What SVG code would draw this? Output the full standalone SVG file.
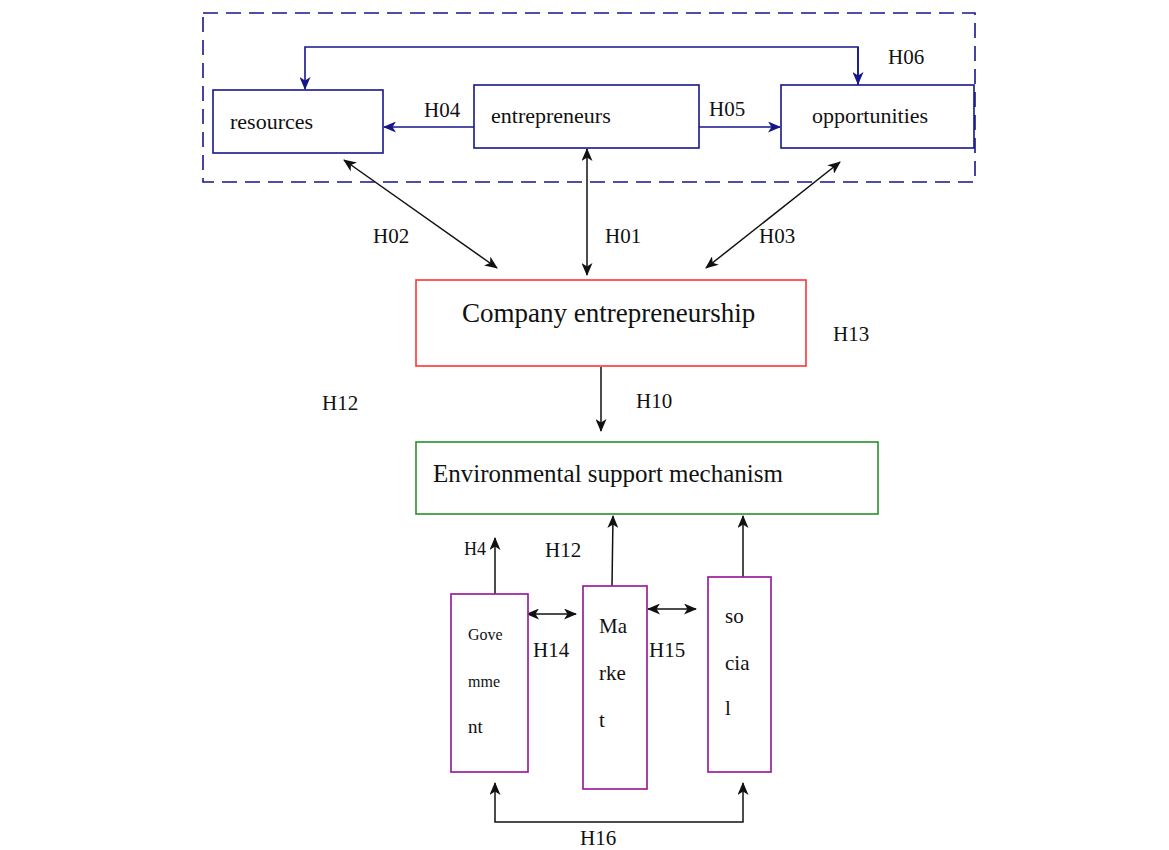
<svg xmlns="http://www.w3.org/2000/svg" width="1169" height="850" viewBox="0 0 1169 850">
<style>
.t{font-family:"Liberation Serif","Times New Roman",serif;fill:#111;}
.blue{fill:#fff;stroke:#16168c;stroke-width:1.6;}
.bl{fill:none;stroke:#16168c;stroke-width:1.6;}
.k{fill:none;stroke:#111;stroke-width:1.5;}
.pur{fill:#fff;stroke:#9a1fa0;stroke-width:1.7;}
</style>
<defs>
<marker id="ab" viewBox="0 0 13 11" refX="12" refY="5.5" markerWidth="13" markerHeight="11" markerUnits="userSpaceOnUse" orient="auto-start-reverse"><path d="M0,0 L13,5.5 L0,11 L3.5,5.5 z" fill="#16168c"/></marker>
<marker id="ak" viewBox="0 0 13 11" refX="12" refY="5.5" markerWidth="13" markerHeight="11" markerUnits="userSpaceOnUse" orient="auto-start-reverse"><path d="M0,0 L13,5.5 L0,11 L3.5,5.5 z" fill="#111"/></marker>
</defs>
<rect width="1169" height="850" fill="#fff"/>
<g id="group-box"><rect x="203" y="13" width="772" height="169" fill="none" stroke="#16168c" stroke-width="1.6" stroke-dasharray="15,8"/></g>
<g id="connectors">
<path class="bl" d="M858,85 V47 H305 V89" marker-end="url(#ab)"/>
<path class="bl" d="M858,47 V84" marker-end="url(#ab)"/>
<line class="bl" x1="474" y1="127" x2="384" y2="127" marker-end="url(#ab)"/>
<line class="bl" x1="699" y1="127" x2="780" y2="127" marker-end="url(#ab)"/>
<line class="k" x1="344" y1="160" x2="497" y2="268" marker-start="url(#ak)" marker-end="url(#ak)"/>
<line class="k" x1="587" y1="149" x2="587" y2="275" marker-start="url(#ak)" marker-end="url(#ak)"/>
<line class="k" x1="840" y1="162" x2="706" y2="268" marker-start="url(#ak)" marker-end="url(#ak)"/>
<line class="k" x1="601" y1="367" x2="601" y2="431" marker-end="url(#ak)"/>
<line class="k" x1="495" y1="594" x2="495" y2="538" marker-end="url(#ak)"/>
<line class="k" x1="612" y1="586" x2="613" y2="516" marker-end="url(#ak)"/>
<line class="k" x1="743" y1="577" x2="743" y2="516" marker-end="url(#ak)"/>
<line class="k" x1="527" y1="614" x2="576" y2="614" marker-start="url(#ak)" marker-end="url(#ak)"/>
<line class="k" x1="648" y1="609" x2="696" y2="609" marker-start="url(#ak)" marker-end="url(#ak)"/>
<path class="k" d="M495,783 V822 H743 V783" marker-start="url(#ak)" marker-end="url(#ak)"/>
</g>
<g id="resources"><rect class="blue" x="213" y="90" width="170" height="63"/><text class="t" x="230" y="129" font-size="22">resources</text></g>
<g id="entrepreneurs"><rect class="blue" x="474" y="85" width="225" height="63"/><text class="t" x="491" y="123" font-size="22">entrepreneurs</text></g>
<g id="opportunities"><rect class="blue" x="781" y="85" width="193" height="63"/><text class="t" x="812" y="123" font-size="22">opportunities</text></g>
<g id="company"><rect x="416" y="280" width="390" height="86" fill="#fff" stroke="#ff3333" stroke-width="1.6"/><text class="t" x="462" y="322" font-size="27">Company entrepreneurship</text></g>
<g id="environment"><rect x="416" y="442" width="462" height="72" fill="#fff" stroke="#2a8f2a" stroke-width="1.6"/><text class="t" x="433" y="482" font-size="25">Environmental support mechanism</text></g>
<g id="government"><rect class="pur" x="451" y="594" width="77" height="178"/>
<text class="t" x="468" y="640" font-size="16">Gove</text><text class="t" x="468" y="687" font-size="16">mme</text><text class="t" x="468" y="733" font-size="19">nt</text></g>
<g id="market"><rect class="pur" x="583" y="586" width="64" height="203"/>
<text class="t" x="599" y="633" font-size="21">Ma</text><text class="t" x="599" y="680" font-size="21">rke</text><text class="t" x="599" y="727" font-size="21">t</text></g>
<g id="social"><rect class="pur" x="708" y="577" width="63" height="195"/>
<text class="t" x="725" y="623" font-size="21">so</text><text class="t" x="725" y="670" font-size="21">cia</text><text class="t" x="725" y="715" font-size="21">l</text></g>
<g id="labels" class="t" font-size="21">
<text x="424" y="117">H04</text>
<text x="709" y="116">H05</text>
<text x="888" y="64">H06</text>
<text x="373" y="243">H02</text>
<text x="605" y="243">H01</text>
<text x="759" y="243">H03</text>
<text x="833" y="341">H13</text>
<text x="322" y="410">H12</text>
<text x="636" y="408">H10</text>
<text x="464" y="555" font-size="18">H4</text>
<text x="545" y="557">H12</text>
<text x="533" y="657">H14</text>
<text x="649" y="657">H15</text>
<text x="580" y="845">H16</text>
</g>
</svg>
